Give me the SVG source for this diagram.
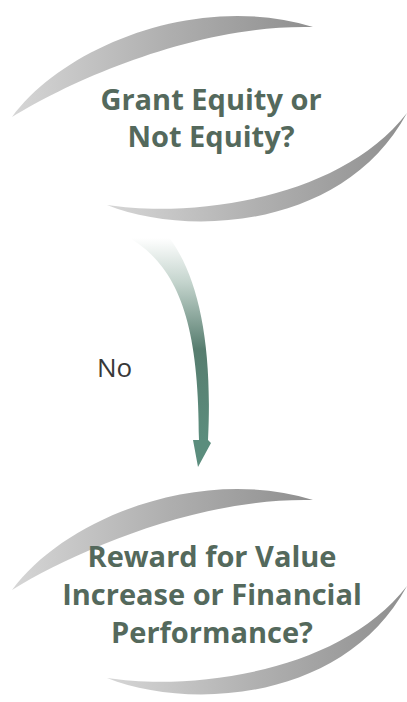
<svg xmlns="http://www.w3.org/2000/svg" width="407" height="702" viewBox="0 0 407 702">
  <style>
    .title { font-family: "Open Sans", "Liberation Sans", sans-serif; font-weight: bold; font-size: 29px; fill: #54695c; text-anchor: middle; }
    .label { font-family: "Open Sans", "Liberation Sans", sans-serif; font-size: 26px; fill: #383838; }
  </style>
  <defs>
    <linearGradient id="arcGrad" x1="0" y1="0" x2="1" y2="0">
      <stop offset="0" stop-color="#d6d6d6"/>
      <stop offset="0.5" stop-color="#b0b0b0"/>
      <stop offset="1" stop-color="#8f8f8f"/>
    </linearGradient>
    <linearGradient id="arrowGrad" gradientUnits="userSpaceOnUse" x1="0" y1="238" x2="0" y2="440">
      <stop offset="0" stop-color="#ffffff"/>
      <stop offset="0.22" stop-color="#c4d4cd"/>
      <stop offset="0.55" stop-color="#577d6f"/>
      <stop offset="1" stop-color="#5b8d7d"/>
    </linearGradient>
  </defs>

  <g id="node-grant-equity">
    <path d="M12,117 C65,45 200,-8 313,27 C200,24 75,78 12,117 Z" fill="url(#arcGrad)"/>
    <path d="M107,205 C190,238 345,228 407,113 C340,200 190,218 107,205 Z" fill="url(#arcGrad)"/>
    <text class="title" x="211" y="110">Grant Equity or</text>
    <text class="title" x="211" y="147">Not Equity?</text>
  </g>

  <g id="connectors">
    <path d="M125,235 C178,265 199,320 199,440 L193,440 L198,467 L211,443 L208,440 C213,340 197,272 167,235 Z" fill="url(#arrowGrad)"/>
    <text class="label" x="97" y="377">No</text>
  </g>

  <g id="node-reward">
    <path d="M12,590 C65,518 200,465 313,500 C200,497 75,551 12,590 Z" fill="url(#arcGrad)"/>
    <path d="M107,678 C190,711 345,701 407,586 C340,673 190,691 107,678 Z" fill="url(#arcGrad)"/>
    <text class="title" x="212" y="567">Reward for Value</text>
    <text class="title" x="212" y="605">Increase or Financial</text>
    <text class="title" x="212" y="643">Performance?</text>
  </g>
</svg>
